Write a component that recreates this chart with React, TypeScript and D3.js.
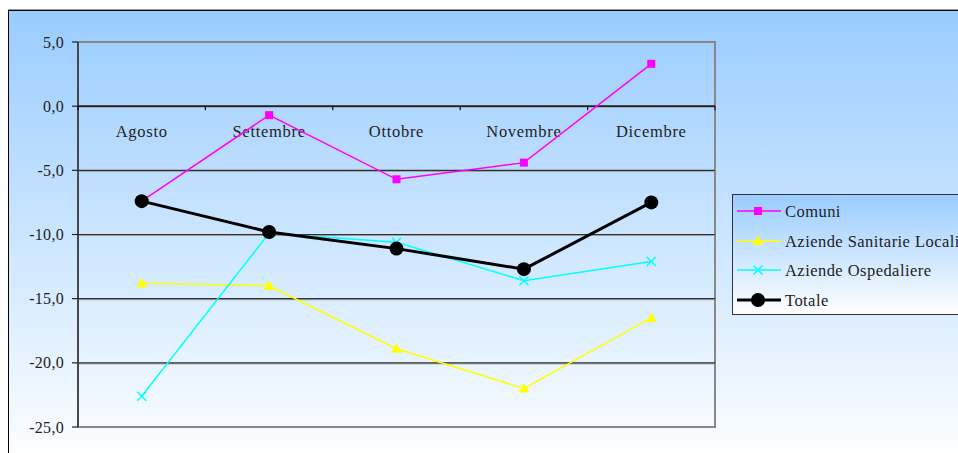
import React from "react";
import * as d3 from "d3";

const categories = ["Agosto", "Settembre", "Ottobre", "Novembre", "Dicembre"];
const comuni = [-7.4, -0.7, -5.7, -4.4, 3.3];
const asl = [-13.8, -14.0, -18.9, -22.0, -16.5];
const ao = [-22.6, -9.9, -10.6, -13.6, -12.1];
const totale = [-7.4, -9.8, -11.1, -12.7, -7.5];
const yTicks = [5, 0, -5, -10, -15, -20, -25];

const seriesNames = ["Comuni", "Aziende Sanitarie Locali", "Aziende Ospedaliere", "Totale"];
const seriesColors = ["#FF00FF", "#FFFF00", "#00FFFF", "#000000"];
const seriesMarkers = ["square", "triangle", "cross", "circle"];

const W = 958;
const H = 453;
const FONT = "'Liberation Serif', 'DejaVu Serif', serif";

function Marker({ type, x, y, color }: { type: string; x: number; y: number; color: string }) {
  if (type === "square") return <rect x={x - 4} y={y - 4} width={8} height={8} fill={color} />;
  if (type === "triangle")
    return <path d={`M${x},${y - 5.5} L${x + 5.5},${y + 4} L${x - 5.5},${y + 4} Z`} fill={color} />;
  if (type === "cross")
    return (
      <path
        d={`M${x - 4.5},${y - 4.5} L${x + 4.5},${y + 4.5} M${x - 4.5},${y + 4.5} L${x + 4.5},${y - 4.5}`}
        stroke={color}
        strokeWidth={1.5}
        fill="none"
      />
    );
  return <circle cx={x} cy={y} r={7} fill={color} />;
}

export default function App() {
  const left = 78;
  const right = 715;
  const top = 42;
  const bottom = 427;

  const x = d3.scaleBand<string>().domain(categories).range([left, right]);
  const y = d3.scaleLinear().domain([5, -25]).range([top, bottom]);
  const cx = (c: string) => (x(c) ?? 0) + x.bandwidth() / 2;

  const line = d3
    .line<number>()
    .x((_, i) => cx(categories[i]))
    .y((v) => y(v));

  const data = [comuni, asl, ao, totale];
  const fmt = (v: number) => d3.format(".1f")(v).replace(".", ",").replace("−", "-");

  const legendX = 732;
  const legendY = 194;
  const legendH = 120;
  const legendRowY = [211, 241, 270, 300];

  return (
    <svg
      width={W}
      height={H}
      style={{ position: "absolute", left: 0, top: 0 }}
    >
      <defs>
        <linearGradient id="bg" x1="0" y1="0" x2="0" y2="1">
          <stop offset="0" stopColor="#99CCFF" />
          <stop offset="1" stopColor="#FFFFFF" />
        </linearGradient>
        <linearGradient id="lg" x1="0" y1="0" x2="0" y2="1">
          <stop offset="0" stopColor="#99CCFF" />
          <stop offset="1" stopColor="#FFFFFF" />
        </linearGradient>
      </defs>
      <rect x={0} y={0} width={W} height={H} fill="#fff" />
      <rect x={8.5} y={10.5} width={960} height={455} fill="url(#bg)" stroke="#000" strokeWidth={1} />
      <line x1={8} y1={9.5} x2={W} y2={9.5} stroke="#999" strokeWidth={1} />

      {/* plot area border */}
      <rect x={left} y={top} width={right - left} height={bottom - top} fill="none" stroke="#888" strokeWidth={2} />

      {/* gridlines */}
      {yTicks.slice(1, -1).map((t) => (
        <g key={t}>
          <line x1={left} x2={right} y1={y(t) + 1} y2={y(t) + 1} stroke="#999" strokeWidth={1} />
          <line x1={left} x2={right} y1={y(t)} y2={y(t)} stroke="#333" strokeWidth={1.2} />
        </g>
      ))}

      {/* y axis */}
      <line x1={left} x2={left} y1={top} y2={bottom} stroke="#333" strokeWidth={1.5} />
      {yTicks.map((t) => (
        <g key={"yt" + t}>
          <line x1={left - 6} x2={left} y1={y(t)} y2={y(t)} stroke="#222" strokeWidth={1.2} />
          <text
            x={64}
            y={y(t)}
            dy="0.35em"
            textAnchor="end"
            fontFamily={FONT}
            fontSize={16}
            letterSpacing={0.3}
            fill="#222"
          >
            {fmt(t)}
          </text>
        </g>
      ))}

      {/* category axis at 0 */}
      <line x1={left} x2={right} y1={y(0)} y2={y(0)} stroke="#111" strokeWidth={1.3} />
      {categories.map((c) => (
        <line key={"ct" + c} x1={x(c)} x2={x(c)} y1={y(0)} y2={y(0) + 4} stroke="#111" strokeWidth={1.2} />
      ))}
      <line x1={right} x2={right} y1={y(0)} y2={y(0) + 4} stroke="#111" strokeWidth={1.2} />
      {categories.map((c) => (
        <text
          key={"cl" + c}
          x={cx(c)}
          y={137}
          textAnchor="middle"
          fontFamily={FONT}
          fontSize={16.5}
          letterSpacing={0.7}
          fill="#222"
        >
          {c}
        </text>
      ))}

      {/* series */}
      {data.map((vals, si) => (
        <g key={"s" + si}>
          <path
            d={line(vals) ?? ""}
            fill="none"
            stroke={seriesColors[si]}
            strokeWidth={si === 3 ? 3 : 1.5}
          />
          {vals.map((v, i) => (
            <Marker key={i} type={seriesMarkers[si]} x={cx(categories[i])} y={y(v)} color={seriesColors[si]} />
          ))}
        </g>
      ))}

      {/* legend */}
      <rect x={legendX + 0.5} y={legendY + 0.5} width={300} height={legendH} fill="url(#lg)" stroke="#333" strokeWidth={1} />
      {seriesNames.map((n, i) => (
        <g key={"lg" + n}>
          <line
            x1={737}
            x2={781}
            y1={legendRowY[i]}
            y2={legendRowY[i]}
            stroke={seriesColors[i]}
            strokeWidth={i === 3 ? 3 : 1.5}
          />
          <Marker
            type={seriesMarkers[i]}
            x={758}
            y={legendRowY[i]}
            color={seriesColors[i]}
          />
          <text x={785} y={legendRowY[i]} dy="0.35em" fontFamily={FONT} fontSize={16.5} letterSpacing={0.45} fill="#222">
            {n}
          </text>
        </g>
      ))}
    </svg>
  );
}
